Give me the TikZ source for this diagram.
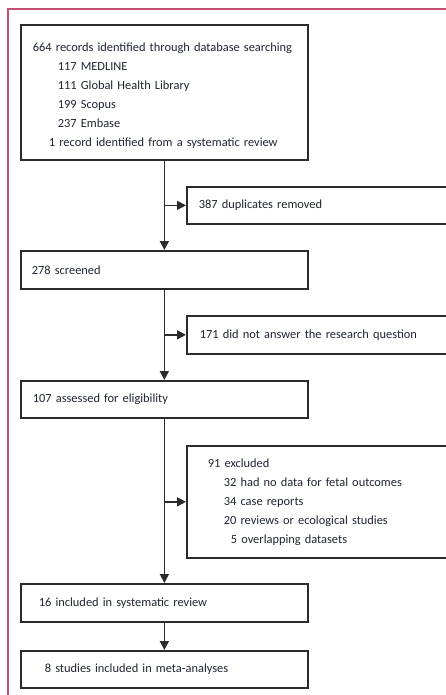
\documentclass[tikz,border=0pt]{standalone}
\usepackage{fontspec}
\setmainfont{Carlito}
\usetikzlibrary{arrows.meta,calc}
\definecolor{framec}{HTML}{C5506F}
\definecolor{linec}{HTML}{2B2B2B}
\definecolor{textc}{HTML}{1E2430}
\begin{document}
\begin{tikzpicture}[x=1pt,y=-1pt,
  box/.style={draw=linec, line width=1.7pt, anchor=north west, align=left,
    font=\fontsize{12.4}{19}\selectfont, text=textc, inner ysep=0pt},
  conn/.style={draw=linec, line width=1.7pt, -{Triangle[length=9pt,width=9pt]}}]
\useasboundingbox (0,0) rectangle (446,695);
\clip (0,0) rectangle (446,695);
% frame
\draw[framec, line width=2pt] (8,700) -- (8,9) -- (460,9);
% boxes
\node[box, minimum width=287, minimum height=135, inner xsep=12, text width=263] (b1) at (20,24)
  {\rule{0pt}{15pt}664 records identified through database searching\\
   \hspace*{25pt}117 MEDLINE\\
   \hspace*{25pt}111 Global Health Library\\
   \hspace*{25pt}199 Scopus\\
   \hspace*{25pt}237 Embase\\
   \hspace*{16pt}1 record identified from a systematic review};
\node[box, minimum width=280, minimum height=37, inner xsep=12, text width=256] (b2) at (186,186)
  {387 duplicates removed};
\node[box, minimum width=287, minimum height=38, inner xsep=11, text width=265] (b3) at (20,250)
  {278 screened};
\node[box, minimum width=280, minimum height=38, inner xsep=13, text width=254] (b4) at (186,315)
  {171 did not answer the research question};
\node[box, minimum width=287, minimum height=37, inner xsep=12, text width=263] (b5) at (20,380)
  {107 assessed for eligibility};
\node[box, minimum width=280, minimum height=112, inner xsep=21, text width=238] (b6) at (186,445)
  {91 excluded\\
   \hspace*{16pt}32 had no data for fetal outcomes\\
   \hspace*{16pt}34 case reports\\
   \hspace*{16pt}20 reviews or ecological studies\\
   \hspace*{23pt}5 overlapping datasets};
\node[box, minimum width=287, minimum height=38, inner xsep=18, text width=251] (b7) at (20,583)
  {16 included in systematic review};
\node[box, minimum width=287, minimum height=37, inner xsep=24, text width=239] (b8) at (20,650)
  {8 studies included in meta-analyses};
% main flow
\draw[conn] (b1.south) -- (b3.north);
\draw[conn] (b3.south) -- (b5.north);
\draw[conn] (b5.south) -- (b7.north);
\draw[conn] (b7.south) -- (b8.north);
% side branches
\coordinate (j2) at ($(b1.south)!(b2.west)!(b3.north)$);
\coordinate (j4) at ($(b3.south)!(b4.west)!(b5.north)$);
\coordinate (j6) at ($(b5.south)!(b6.west)!(b7.north)$);
\draw[conn] (j2) -- (b2.west);
\draw[conn] (j4) -- (b4.west);
\draw[conn] (j6) -- (b6.west);
\end{tikzpicture}
\end{document}
